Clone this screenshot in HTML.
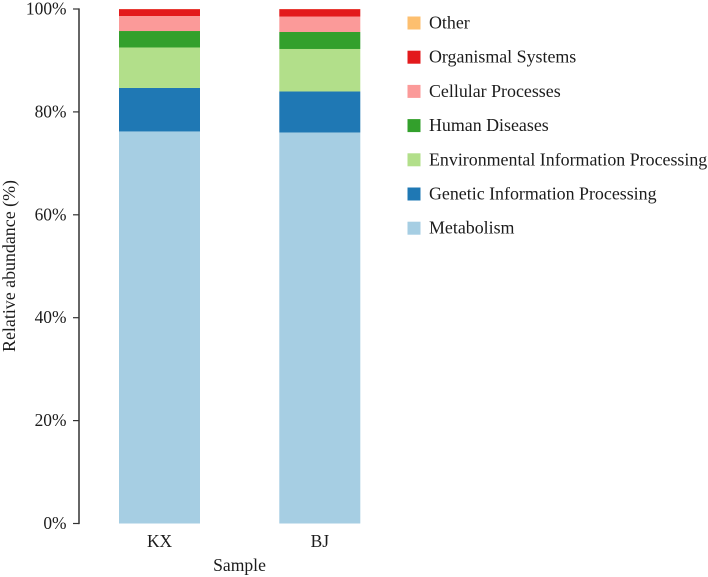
<!DOCTYPE html>
<html lang="en">
<head>
<meta charset="utf-8">
<title>Relative abundance stacked bar chart</title>
<style>
html,body{margin:0;padding:0;background:#fff;}
body{width:708px;height:577px;overflow:hidden;}
svg{display:block;}
text{font-family:"Liberation Serif",serif;fill:#1c1c1c;}
</style>
</head>
<body>
<svg id="chart" xmlns="http://www.w3.org/2000/svg" width="708" height="577" viewBox="0 0 708 577"></svg>
<script>
const categories = ["KX", "BJ"];
const seriesNames = ["Metabolism", "Genetic Information Processing", "Environmental Information Processing", "Human Diseases", "Cellular Processes", "Organismal Systems", "Other"];
const metabolism = [76.2, 76.0];
const genetic = [8.45, 7.97];
const environmental = [7.87, 8.26];
const humanDiseases = [3.2, 3.3];
const cellular = [2.92, 3.0];
const organismal = [1.34, 1.45];
const other = [0.02, 0.02];
const yTicks = [0, 20, 40, 60, 80, 100];
const colors = ["#a6cee3", "#1f78b4", "#b2df8a", "#33a02c", "#fb9a99", "#e31a1c", "#fdbf6f"];

const seriesValues = [metabolism, genetic, environmental, humanDiseases, cellular, organismal, other];
const NS = "http://www.w3.org/2000/svg";
const svg = document.getElementById("chart");
const Y0 = 523.5, Y100 = 9, FIRST_BAR_CENTER = 159.5, BAR_STEP = 160.3, BAR_WIDTH = 81;
function yScale(v) { return Y0 - (Y0 - Y100) * v / 100; }
function xScale(i) { return FIRST_BAR_CENTER + BAR_STEP * i; }
function make(tag, attrs, parent) {
  const el = document.createElementNS(NS, tag);
  for (const k in attrs) el.setAttribute(k, attrs[k]);
  (parent || svg).appendChild(el);
  return el;
}

categories.forEach(function (cat, i) {
  const group = make("g", {});
  
  
  let cum = 0;
  seriesValues.forEach(function (vals, s) {
    const top = yScale(cum + vals[i]);
    const bottom = yScale(cum);
    const r = make("rect", { x: xScale(i) - BAR_WIDTH / 2, y: top, width: BAR_WIDTH, height: bottom - top, fill: colors[s] }, group);
    
    
    cum += vals[i];
  });
  const label = make("text", { x: xScale(i), y: 547, "text-anchor": "middle", "font-size": 17.4 });
  label.textContent = cat;
  
  
});

const axisLine = make("line", { x1: 79, x2: 79, y1: yScale(100) - 0.6, y2: yScale(0) + 0.6, stroke: "#333", "stroke-width": 1.5 });



yTicks.forEach(function (t) {
  const tick = make("line", { x1: 73, x2: 79, y1: yScale(t), y2: yScale(t), stroke: "#333", "stroke-width": 1.2 });
  
  
  const label = make("text", { x: 66.5, y: yScale(t) + 5.5, "text-anchor": "end", "font-size": 17.4 });
  label.textContent = t + "%";
  
  
});

const yTitle = make("text", { transform: "translate(15 266) rotate(-90)", "text-anchor": "middle", "font-size": 17.9 });
yTitle.textContent = "Relative abundance (%)";



const xTitle = make("text", { x: 239.5, y: 571, "text-anchor": "middle", "font-size": 17.6 });
xTitle.textContent = "Sample";



const legend = make("g", {});


seriesNames.slice().reverse().forEach(function (name, i) {
  const s = seriesNames.length - 1 - i;
  const cy = 23 + i * 34.2;
  const entry = make("g", {}, legend);
  
  
  const sw = make("rect", { x: 407.5, y: cy - 6.5, width: 13, height: 13, fill: colors[s] }, entry);
  
  
  const tx = make("text", { x: 429, y: cy + 5.5, "font-size": 17.9 }, entry);
  tx.textContent = name;
  
  
});
</script>
</body>
</html>
